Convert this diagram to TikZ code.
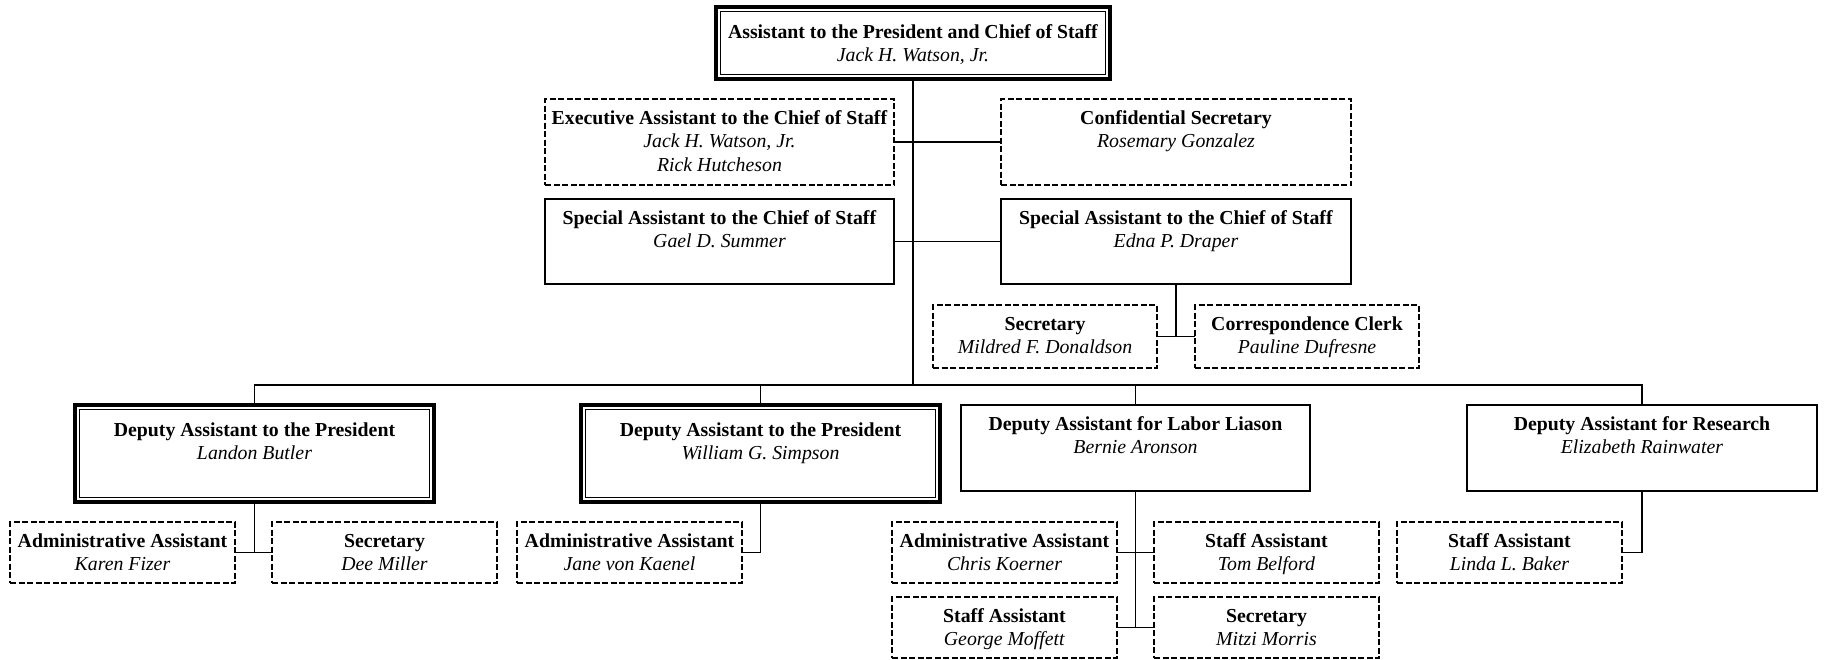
\documentclass[tikz,border=0pt]{standalone}
\usepackage{fontspec}
\setmainfont{Liberation Serif}
\usetikzlibrary{calc}
\newcommand\orgtitle[1]{\rule{0pt}{15pt}\textbf{#1}}
\begin{document}
\begin{tikzpicture}[x=1pt,y=-1pt,
  base/.style={inner sep=0pt, outer sep=0pt, anchor=north west},
  solidbox/.style={base, draw, line width=1.5pt},
  dashbox/.style={base, draw, line width=1.4pt, dash pattern=on 6pt off 2.5pt},
  dblbox/.style={base, draw, line width=3.3pt},
  inner/.style={line width=1.1pt},
  lbl/.style={anchor=north, yshift=-10pt, align=center, inner sep=0pt,
    font=\fontsize{19.8}{23.5}\selectfont},
  dlbl/.style={lbl, yshift=-6pt},
  conn/.style={line width=1.8pt}
]
\useasboundingbox (0,0) rectangle (1826,659);
% top
\node[dblbox, minimum width=394, minimum height=72,
  label={[dlbl]north:{\orgtitle{Assistant to the President and Chief of Staff}\\\textit{Jack H. Watson, Jr.}}}] (top) at (716,7) {};
% second level
\node[dashbox, minimum width=349, minimum height=86,
  label={[lbl]north:{\orgtitle{Executive Assistant to the Chief of Staff}\\\textit{Jack H. Watson, Jr.}\\\textit{Rick Hutcheson}}}] (exec) at (545,99) {};
\node[dashbox, minimum width=350, minimum height=86,
  label={[lbl]north:{\orgtitle{Confidential Secretary}\\\textit{Rosemary Gonzalez}}}] (conf) at (1001,99) {};
\node[solidbox, minimum width=349, minimum height=85,
  label={[lbl]north:{\orgtitle{Special Assistant to the Chief of Staff}\\\textit{Gael D. Summer}}}] (spa) at (545,199) {};
\node[solidbox, minimum width=350, minimum height=85,
  label={[lbl]north:{\orgtitle{Special Assistant to the Chief of Staff}\\\textit{Edna P. Draper}}}] (spb) at (1001,199) {};
\node[dashbox, minimum width=224, minimum height=63,
  label={[lbl]north:{\orgtitle{Secretary}\\\textit{Mildred F. Donaldson}}}] (mild) at (933,305) {};
\node[dashbox, minimum width=224, minimum height=63,
  label={[lbl]north:{\orgtitle{Correspondence Clerk}\\\textit{Pauline Dufresne}}}] (corr) at (1195,305) {};
% deputies
\node[dblbox, minimum width=359, minimum height=97,
  label={[dlbl]north:{\orgtitle{Deputy Assistant to the President}\\\textit{Landon Butler}}}] (depa) at (75,405) {};
\node[dblbox, minimum width=359, minimum height=97,
  label={[dlbl]north:{\orgtitle{Deputy Assistant to the President}\\\textit{William G. Simpson}}}] (depb) at (581,405) {};
\node[solidbox, minimum width=349, minimum height=86,
  label={[lbl]north:{\orgtitle{Deputy Assistant for Labor Liason}\\\textit{Bernie Aronson}}}] (labor) at (961,405) {};
\node[solidbox, minimum width=350, minimum height=86,
  label={[lbl]north:{\orgtitle{Deputy Assistant for Research}\\\textit{Elizabeth Rainwater}}}] (res) at (1467,405) {};
% bottom
\node[dashbox, minimum width=225, minimum height=61,
  label={[lbl]north:{\orgtitle{Administrative Assistant}\\\textit{Karen Fizer}}}] (karen) at (10,522) {};
\node[dashbox, minimum width=225, minimum height=61,
  label={[lbl]north:{\orgtitle{Secretary}\\\textit{Dee Miller}}}] (dee) at (272,522) {};
\node[dashbox, minimum width=225, minimum height=61,
  label={[lbl]north:{\orgtitle{Administrative Assistant}\\\textit{Jane von Kaenel}}}] (jane) at (517,522) {};
\node[dashbox, minimum width=225, minimum height=61,
  label={[lbl]north:{\orgtitle{Administrative Assistant}\\\textit{Chris Koerner}}}] (chris) at (892,522) {};
\node[dashbox, minimum width=225, minimum height=61,
  label={[lbl]north:{\orgtitle{Staff Assistant}\\\textit{Tom Belford}}}] (tom) at (1154,522) {};
\node[dashbox, minimum width=225, minimum height=61,
  label={[lbl]north:{\orgtitle{Staff Assistant}\\\textit{Linda L. Baker}}}] (linda) at (1397,522) {};
\node[dashbox, minimum width=225, minimum height=61,
  label={[lbl]north:{\orgtitle{Staff Assistant}\\\textit{George Moffett}}}] (george) at (892,597) {};
\node[dashbox, minimum width=225, minimum height=61,
  label={[lbl]north:{\orgtitle{Secretary}\\\textit{Mitzi Morris}}}] (mitzi) at (1154,597) {};
% inner lines of double boxes
\foreach \b in {top,depa,depb}
  \draw[inner] ($(\b.north west)+(4.5,4.5)$) rectangle ($(\b.south east)+(-4.5,-4.5)$);
% connectors
\draw[conn] (depa.north) -- ++(0,-20) coordinate (bus) -| (res.north);
\draw[conn] (top.south) -- (top.south |- bus);
\draw[conn] (depb.north) -- (depb.north |- bus);
\draw[conn] (labor.north) -- (labor.north |- bus);
\draw[conn] (exec.east) -- (conf.west);
\draw[conn] (spa.east) -- (spb.west);
\draw[conn] (spb.south) -- (spb.south |- mild.east);
\draw[conn] (mild.east) -- (corr.west);
\draw[conn] (depa.south) -- (depa.south |- karen.east);
\draw[conn] (karen.east) -- (dee.west);
\draw[conn] (depb.south) |- (jane.east);
\draw[conn] (labor.south) -- (labor.south |- george.east);
\draw[conn] (chris.east) -- (tom.west);
\draw[conn] (george.east) -- (mitzi.west);
\draw[conn] (res.south) |- (linda.east);
\end{tikzpicture}
\end{document}
